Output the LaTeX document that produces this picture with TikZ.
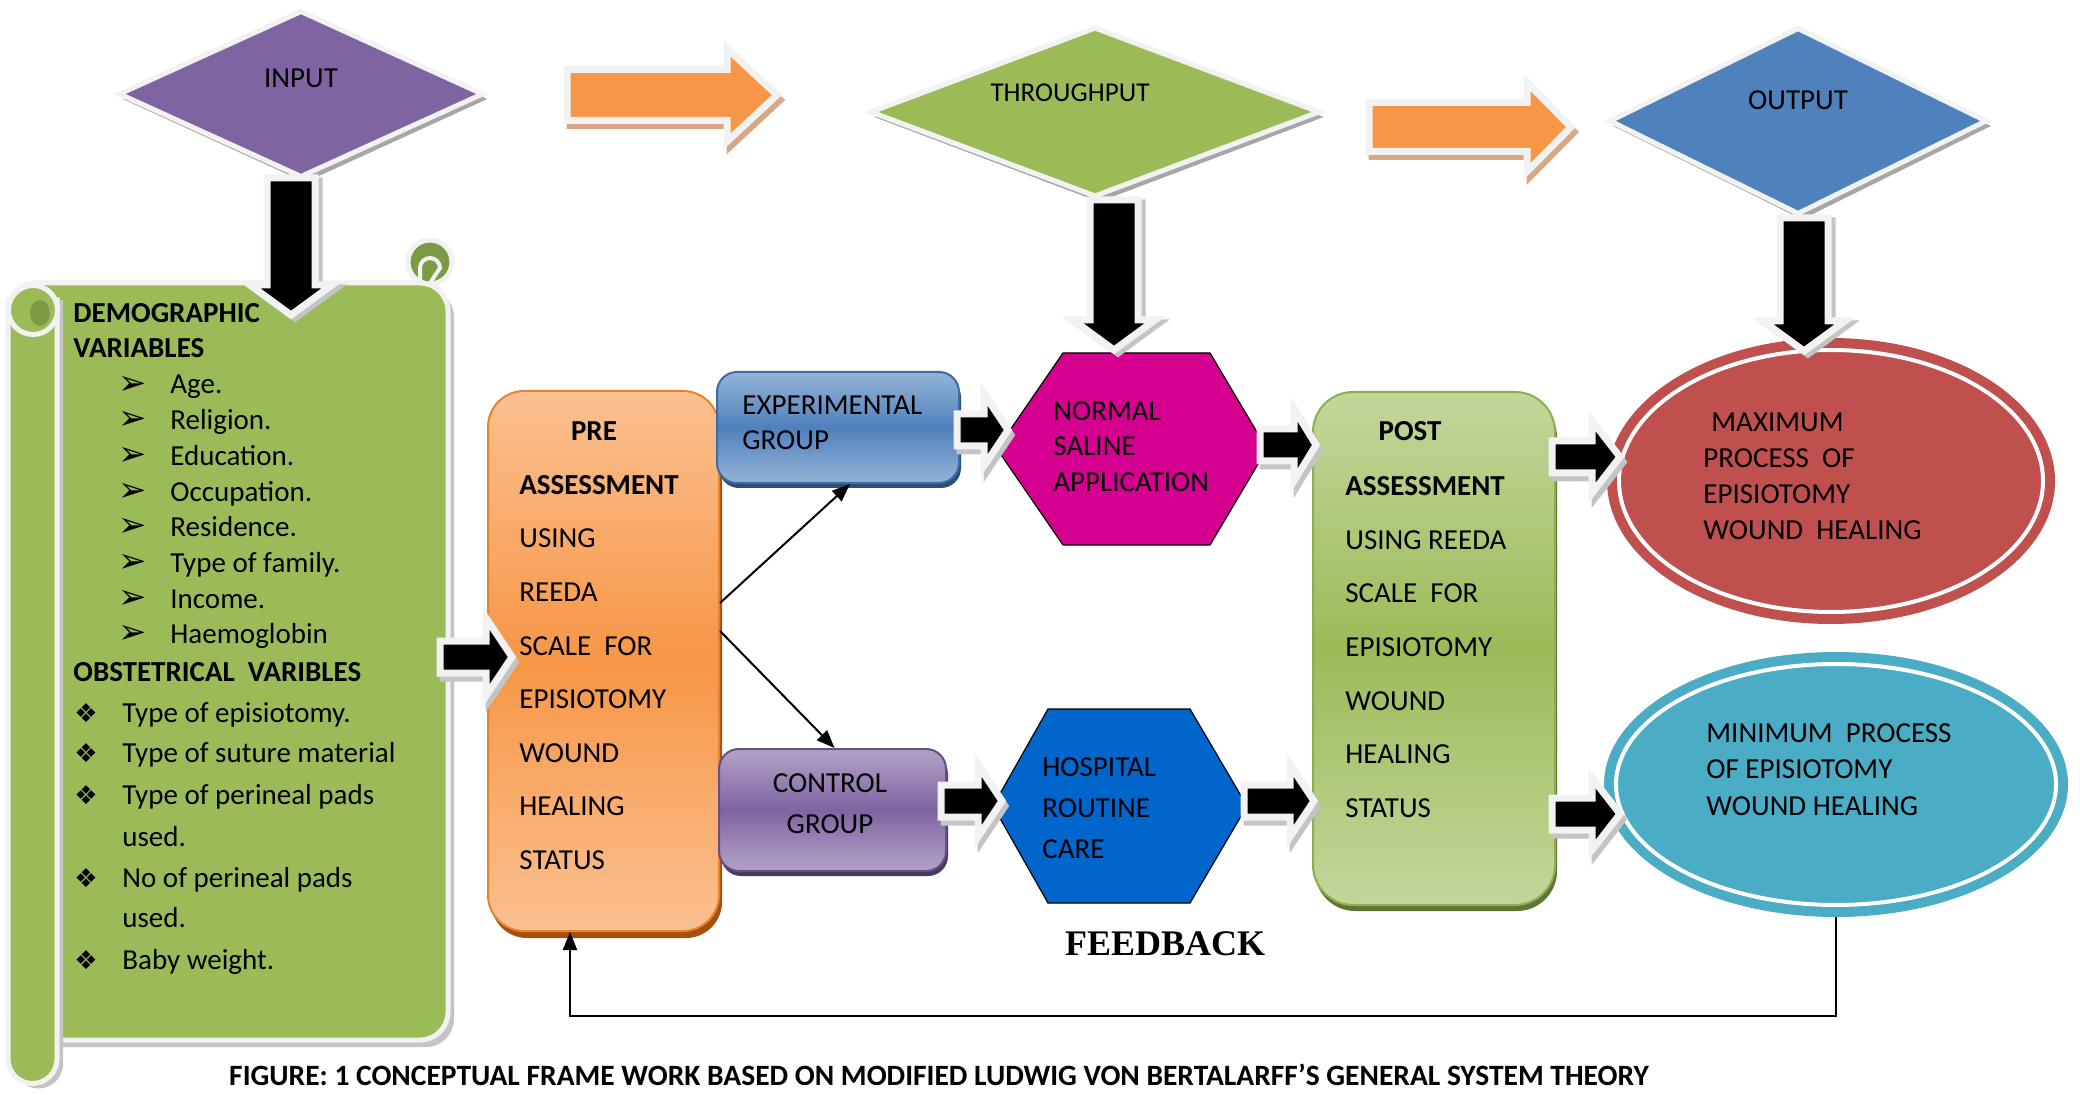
\documentclass[tikz,border=0pt]{standalone}
\usepackage{fontspec}
\setmainfont{Carlito}
\newfontfamily\dejavu{DejaVu Sans}
\newfontfamily\lserif{Liberation Serif}
\usetikzlibrary{shapes.geometric,arrows.meta}
\definecolor{wb}{HTML}{F2F2F2}
\definecolor{inputc}{HTML}{8064A2}
\definecolor{greenc}{HTML}{9BBB59}
\definecolor{greend}{HTML}{7A9A44}
\definecolor{bluec}{HTML}{4F81BD}
\definecolor{orangec}{HTML}{F79646}
\definecolor{orsh}{HTML}{D8A785}
\definecolor{dsh}{HTML}{A6A6A6}
\definecolor{ash}{HTML}{C4C4C4}
\definecolor{redc}{HTML}{C0504D}
\definecolor{tealc}{HTML}{4BACC6}
\definecolor{magc}{HTML}{D5008F}
\definecolor{hrcc}{HTML}{0066CC}
\definecolor{prel}{HTML}{FAC090}
\definecolor{preb}{HTML}{E8822F}
\definecolor{pres}{HTML}{A5500F}
\definecolor{expl}{HTML}{95B3D7}
\definecolor{expb}{HTML}{3E6BA3}
\definecolor{exps}{HTML}{2C4D75}
\definecolor{conl}{HTML}{B3A2C7}
\definecolor{conb}{HTML}{664F85}
\definecolor{cons}{HTML}{4A3A61}
\definecolor{postl}{HTML}{C3D69B}
\definecolor{postb}{HTML}{8DAE4F}
\definecolor{posts}{HTML}{5F7530}
% right-pointing block arrow: x0, yc, xtip, shaft half, head half, head length, fill, shadow
\newcommand\BArR[8]{%
 \filldraw[fill=#8,draw=#8,line width=3.5pt,shift={(3,5)}] (#1,#2-#4) -- (#3-#6,#2-#4) -- (#3-#6,#2-#5) -- (#3,#2) -- (#3-#6,#2+#5) -- (#3-#6,#2+#4) -- (#1,#2+#4) -- cycle;
 \filldraw[fill=#7,draw=wb,line width=3.5pt] (#1,#2-#4) -- (#3-#6,#2-#4) -- (#3-#6,#2-#5) -- (#3,#2) -- (#3-#6,#2+#5) -- (#3-#6,#2+#4) -- (#1,#2+#4) -- cycle;}
% down-pointing block arrow: xc, y0, ytip, shaft half, head half, head length, fill, shadow
\newcommand\BArD[8]{%
 \filldraw[fill=#8,draw=#8,line width=3.5pt,shift={(4,3)}] (#1-#4,#2) -- (#1-#4,#3-#6) -- (#1-#5,#3-#6) -- (#1,#3) -- (#1+#5,#3-#6) -- (#1+#4,#3-#6) -- (#1+#4,#2) -- cycle;
 \filldraw[fill=#7,draw=wb,line width=3.5pt] (#1-#4,#2) -- (#1-#4,#3-#6) -- (#1-#5,#3-#6) -- (#1,#3) -- (#1+#5,#3-#6) -- (#1+#4,#3-#6) -- (#1+#4,#2) -- cycle;}
\begin{document}
\begin{tikzpicture}[x=0.5pt,y=-0.5pt,
  txt/.style={font=\fontsize{14.5}{17.5}\selectfont, inner sep=0pt},
  bt/.style={inner sep=0pt, font=\bfseries\fontsize{14.5}{17.5}\selectfont},
  dia/.style={diamond, draw=wb, line width=2.5pt, inner sep=0pt},
  diash/.style={diamond, fill=dsh, inner sep=0pt},
  rbox/.style={draw, line width=1pt, inner sep=0pt},
  thinarr/.style={-{Triangle[length=9pt,width=7pt]}, line width=1pt},
  bul/.style={inner sep=0pt, font=\dejavu\fontsize{13}{14}\selectfont}]
\fill[white] (0,0) rectangle (2080,1095);
\useasboundingbox (0,0) rectangle (2080,1095);

% ---- top diamonds
\node[diash, minimum width=182.5pt, minimum height=83.5pt] (inS) at (305,99) {};
\node[dia, fill=inputc, minimum width=182.5pt, minimum height=83.5pt] (input) at (301,94) {};
\node[diash, minimum width=225pt, minimum height=85pt] (thS) at (1099,117) {};
\node[dia, fill=greenc, minimum width=225pt, minimum height=85pt] (through) at (1095,112) {};
\node[diash, minimum width=189pt, minimum height=93.5pt] (outS) at (1802,126) {};
\node[dia, fill=bluec, minimum width=189pt, minimum height=93.5pt] (output) at (1798,121) {};

% ---- orange arrows
\BArR{567}{95}{777}{25.5}{46.5}{50}{orangec}{orsh}
\BArR{1369}{127}{1571}{24.5}{44.5}{44}{orangec}{orsh}

% ---- scroll
\fill[ash, rounded corners=14pt] (14,289) rectangle (454,1047);
\filldraw[fill=greenc, draw=wb, line width=2.5pt, rounded corners=14pt] (8,283) rectangle (448,1040);
\filldraw[fill=greend, draw=wb, line width=2.5pt] (430,262) circle[radius=11pt];
\draw[wb, line width=2pt] (420,283) -- (420,268) arc[start angle=180, end angle=0, radius=5pt] -- (430,283);
\fill[ash] (14,300) -- (14,1064) arc[start angle=180,end angle=360,radius=12.25pt] -- (63,300) -- cycle;
\filldraw[fill=greenc, draw=wb, line width=2.5pt] (8,300) -- (8,1059) arc[start angle=180,end angle=360,radius=12.25pt] -- (57,300) -- cycle;
\filldraw[fill=greenc, draw=wb, line width=2.5pt] (33,310) circle[radius=12.25pt];
\fill[greend] (40,313) ellipse[x radius=5pt, y radius=6.5pt];

% ---- rounded boxes
\fill[pres, rounded corners=18pt] (491,398) rectangle (722,938);
\node[rbox, draw=preb, rounded corners=18pt, top color=prel, bottom color=prel, middle color=orangec, minimum width=115.5pt, minimum height=270pt] (pre) at (603.5,661) {};
\fill[exps, rounded corners=10pt] (719,377) rectangle (961,488);
\node[rbox, draw=expb, rounded corners=10pt, top color=expl, bottom color=expl, middle color=bluec, minimum width=121pt, minimum height=55.5pt] (exp) at (838,427.5) {};
\fill[cons, rounded corners=10pt] (721,754) rectangle (948,876);
\node[rbox, draw=conb, rounded corners=10pt, top color=conl, bottom color=conl, middle color=inputc, minimum width=113.5pt, minimum height=61pt] (ctrl) at (832.5,810) {};
\fill[posts, rounded corners=20pt] (1315,397) rectangle (1557,911);
\node[rbox, draw=postb, rounded corners=20pt, top color=postl, bottom color=postl, middle color=greenc, minimum width=121pt, minimum height=256.5pt] (post) at (1434,648.5) {};

% ---- hexagons
\filldraw[fill=magc, draw=black, line width=0.6pt] (1063,353) -- (1210,353) -- (1267,449) -- (1210,545) -- (1063,545) -- (997,449) -- cycle;
\filldraw[fill=hrcc, draw=black, line width=0.6pt] (1048,709) -- (1190,709) -- (1247,806) -- (1190,903) -- (1048,903) -- (993,806) -- cycle;

% ---- ellipses
\node[ellipse, fill=redc, minimum width=224pt, minimum height=143pt, inner sep=0pt] (max) at (1831,481) {};
\draw[white, line width=2pt] (max.center) ellipse[x radius=106pt, y radius=65.5pt];
\node[ellipse, fill=tealc, minimum width=232pt, minimum height=132.5pt, inner sep=0pt] (min) at (1836,784.5) {};
\draw[white, line width=2pt] (min.center) ellipse[x radius=110pt, y radius=60.25pt];

% ---- black block arrows
\BArD{291}{178}{315}{24}{41}{30}{black}{ash}
\BArD{1114}{200}{350}{24}{41}{30}{black}{ash}
\BArD{1804}{218}{351}{24}{41}{30}{black}{ash}
\BArR{440}{657}{512}{16}{39}{26}{black}{ash}
\BArR{957}{430}{1008}{16}{36}{24}{black}{ash}
\BArR{1260}{445}{1316}{16}{36}{22}{black}{ash}
\BArR{941}{801}{1002}{16}{36}{24}{black}{ash}
\BArR{1244}{801}{1314}{16}{36}{24}{black}{ash}
\BArR{1552}{457}{1620}{16}{36}{28}{black}{ash}
\BArR{1552}{814}{1620}{16}{36}{28}{black}{ash}

% ---- thin arrows
\draw[thinarr] ([yshift=29pt]pre.east) -- ([xshift=6pt]exp.south);
\draw[thinarr] ([yshift=15pt]pre.east) -- ([xshift=1pt]ctrl.north);
\coordinate (fb) at (1835,1016);
\draw[thinarr] (min.south) -- (min.south |- fb) -| ([xshift=-16.75pt]pre.south);

% ---- texts
\node[txt] (inputt) at (301,78) {INPUT};
\node[txt, font=\fontsize{13.6}{16}\selectfont] (throught) at (1070,93) {THROUGHPUT};
\node[txt] (outputt) at (1798,100) {OUTPUT};

\node[bt, align=left, anchor=west] (demo) at (73,330.5) {DEMOGRAPHIC\\VARIABLES};
\foreach \t [count=\i from 0] in {Age., Religion., Education., Occupation., Residence., Type of family., Income., Haemoglobin} {
  \node[txt, anchor=base west] (dv\i) at (170,394+35.7*\i) {\t};
  \node[inner sep=0pt, font=\dejavu\fontsize{17}{18}\selectfont] (db\i) at (133,385+35.7*\i) {➢};
}
\node[bt, anchor=base west] (obst) at (73,681) {OBSTETRICAL\ \ VARIBLES};
\node[txt, anchor=base west] (ob1) at (122,722) {Type of episiotomy.};
\node[txt, anchor=base west] (ob2) at (122,762) {Type of suture material};
\node[txt, anchor=base west] (ob3) at (122,804) {Type of perineal pads};
\node[txt, anchor=base west] (ob3b) at (122,846) {used.};
\node[txt, anchor=base west] (ob4) at (122,887) {No of perineal pads};
\node[txt, anchor=base west] (ob4b) at (122,927) {used.};
\node[txt, anchor=base west] (ob5) at (122,969) {Baby weight.};
\foreach \yy [count=\j] in {713,753,795,878,960} {
  \node[bul] (ob\j s) at (86,\yy) {❖};
}

\node[bt] (pret) at (594,431) {PRE};
\node[txt, align=left, anchor=west, font=\fontsize{14.5}{26.8}\selectfont] (pretx) at (519,672.5) {\textbf{ASSESSMENT}\\USING\\REEDA\\SCALE\ \ FOR\\EPISIOTOMY\\WOUND\\HEALING\\STATUS};
\node[txt, align=left, anchor=west] (expt) at (742,422.5) {EXPERIMENTAL\\GROUP};
\node[txt, align=center, font=\fontsize{14.5}{20.5}\selectfont] (ctrlt) at (830,803.5) {CONTROL\\GROUP};
\node[txt, align=left, anchor=west, font=\fontsize{14.5}{17.75}\selectfont] (nsa) at (1053,446.5) {NORMAL\\SALINE\\APPLICATION};
\node[txt, align=left, anchor=west, font=\fontsize{14.5}{20.5}\selectfont] (hrc) at (1042,808) {HOSPITAL\\ROUTINE\\CARE};
\node[bt] (postt) at (1410,431) {POST};
\node[txt, align=left, anchor=west, font=\fontsize{14.5}{26.85}\selectfont] (posttx) at (1345,647) {\textbf{ASSESSMENT}\\USING REEDA\\SCALE\ \ FOR\\EPISIOTOMY\\WOUND\\HEALING\\STATUS};
\node[txt, align=left, anchor=west, font=\fontsize{14.5}{18}\selectfont] (maxt) at (1703,476) {\hspace*{4pt}MAXIMUM\\PROCESS\ \ OF\\EPISIOTOMY\\WOUND\ \ HEALING};
\node[txt, align=left, anchor=west, font=\fontsize{14.5}{18.25}\selectfont] (mint) at (1706,769.5) {MINIMUM\ \ PROCESS\\OF EPISIOTOMY\\WOUND HEALING};

\node[inner sep=0pt, font=\lserif\bfseries\fontsize{18}{20}\selectfont] (fbt) at (1165,944) {FEEDBACK};
\node[inner sep=0pt, font=\bfseries\fontsize{14.75}{17.5}\selectfont] (cap) at (939,1075) {FIGURE: 1 CONCEPTUAL FRAME WORK BASED ON MODIFIED LUDWIG VON BERTALARFF’S GENERAL SYSTEM THEORY};
\end{tikzpicture}
\end{document}
